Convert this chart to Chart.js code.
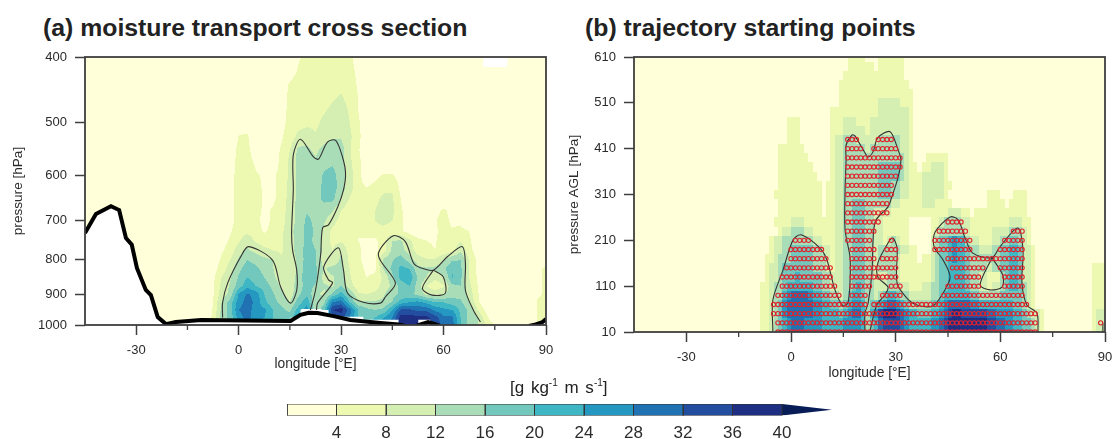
<!DOCTYPE html>
<html>
<head>
<meta charset="utf-8">
<style>
    html, body { margin: 0; padding: 0; background: #fff; width: 1115px; height: 439px; overflow: hidden; }
    body { position: relative; font-family: "Liberation Sans", sans-serif; color: #222; }
    canvas { position: absolute; }
    .panelTitle { position: absolute; top: 14px; font-size: 24.8px; font-weight: bold; white-space: nowrap; line-height: 28px; }
    #barTitle { position: absolute; left: 510px; top: 378px; font-size: 17px; white-space: nowrap; line-height: 20px; word-spacing: 2px; }
    #barTitle sup { font-size: 10px; line-height: 0; }
</style>
</head>
<body>
<div class="panelTitle" style="left:43px">(a) moisture transport cross section</div>
<div class="panelTitle" style="left:585px">(b) trajectory starting points</div>
<canvas id="panelA" width="557" height="390" style="left:0;top:0"></canvas>
<canvas id="panelB" width="558" height="390" style="left:557px;top:0"></canvas>
<div id="barTitle">[g kg<sup>-1</sup> m s<sup>-1</sup>]</div>
<canvas id="colorBar" width="565" height="43" style="left:277px;top:396px"></canvas>

<script src="https://cdn.jsdelivr.net/npm/chart.js@4"></script>
<script>
// colour levels, g/kg m/s
var levelBounds = [0, 4, 8, 12, 16, 20, 24, 28, 32, 36, 40];
var levelColors = ["#FFFFD9", "#EDF8B1", "#D5EFB3", "#A9DDB7", "#73C8BD", "#3FB6C4", "#2498C0", "#2072B2", "#234EA0", "#1D2E83", "#081D58"];

var lonTicks = [-30, 0, 30, 60, 90];
var lonMinorTicks = [-15, 15, 45, 75];
var pressureTicks = [400, 500, 600, 700, 800, 900, 1000];
var agelTicks = [10, 110, 210, 310, 410, 510, 610];

// grid longitudes, rows may stop early (rest is 0)
var gridLons = [-10, -7.5, -5, -2.5, 0, 2.5, 5, 7.5, 10, 12.5, 15, 17.5, 20, 22.5, 25, 27.5, 30, 32.5, 35, 37.5, 40, 42.5, 45, 47.5, 50, 52.5, 55, 57.5, 60, 62.5, 65, 67.5, 70, 72.5, 75, 77.5, 80, 82.5, 85, 87.5, 90];

// (a) moisture transport on pressure levels
var crossPressures = [400, 420, 440, 460, 480, 500, 525, 550, 575, 600, 625, 650, 675, 700, 725, 750, 775, 800, 825, 850, 875, 900, 925, 950, 975, 1000];
var crossField = [
    [0,0,0,0,0,0,0,0,0,0,0,3.5,5,6,6,6,6,5,2],
    [0,0,0,0,0,0,0,0,0,0,2,4.5,6,6,6,6,6,5.5,3],
    [0,0,0,0,0,0,0,0,0,2,4.5,6,6,6,6,6,7,6,3.5],
    [0,0,0,0,0,0,0,0,0,2,5,6,6,6,6,7.5,8.5,6.5,4],
    [0,0,0,0,0,0,0,0,0,2.5,5,6,6,6.5,7.5,9,10,7.5,4],
    [0,0,0,0,2,2,0,0,0,2.5,5.5,6.5,7,7,9,10,10,8,4.5,2],
    [0,0,0,0,4.2,4.5,1,0,1,3.5,6,9,10,8.5,10,11.5,11.5,9,4.8,2],
    [0,0,0,2,5,5,2,0,2,4.5,8,13,13,11,13.5,14,14,8.5,4.5,1],
    [0,0,0,2.5,5,5.5,3.5,1,2,5,9,13.5,14,13,15,15.5,13.5,9,5,2],
    [0,0,0,3,5,5.5,4.5,3.5,3.5,5,9,13,14,14,16.5,17.5,14,10,5,2,3,4.5,4.5,2],
    [0,0,0,3,5,6,5,3.5,3.5,5,9.5,13,14,14,17,18,14,10,5,4,5,7,7.5,3],
    [0,0,0,3,5,6,5.5,3.5,3.5,5,10,13,14.5,14,17,17,12,7.5,4.5,5,7,9,8.5,4],
    [0,0,0,3,5,6,5,3.5,4.2,5.5,10.5,13,15.5,14.5,14,12.5,8,5.5,5,6,8,9.5,9,4.5,2,0,0,3,4.5,3],
    [0,0,1,3,5,6,5,3,4.5,6,10.5,13,17,15,12.5,9.5,6.5,5,4.5,6,8,9.5,8,4.5,2,0,0,3.8,5,3.5,3],
    [0,0,2,3.5,6,7,5.5,3.5,5,7,11,13.5,17.5,15.5,11,7,6,5,4,5,6.5,6.5,5.5,4.5,2,0,0,3.5,5,4.2,5,4,2],
    [0,0,2.5,4.5,7.5,10.5,7.5,6,6.5,7.5,11,13,17.5,15,10,7,7.5,5.5,4,3.5,3,6.5,12,12.5,9,5.5,4,3.8,5,5,7.5,4.5,2],
    [0,1,3.5,5.5,10.5,12.5,11,9,8,7.5,10.5,13.5,18,16,10.5,8,11,6.5,4.5,3,3,6.5,13,13.5,10,6,4.5,4,5,6.5,11.5,5,2.5],
    [0,2,4.5,8,12.5,16,14.5,13,12,8.5,9.5,13,18,16,10,8.5,13,7,4.5,3,3.2,13,15.5,18.5,14,10,8.5,8.5,11.5,15.5,16,7.5,3],
    [0,2.5,5.5,10,15,18,17,14.5,12.2,9,9,13,19,17,11.5,13.5,13.5,8,5,3.5,3.5,12.5,17,21,20,13,12.5,13,15,19.5,17,7.5,3,0,0,0,0,0,0,3,5],
    [0,3,8,11.5,16.5,20,18.5,16,13,9.5,9.5,13.5,19,17,10.5,11.5,14,8.5,5,4,4.5,9,15,21,23,15.5,12,9,11,20.5,17,8,3.5,0,0,0,0,0,0,3,5],
    [0,3.5,9,12.5,18,22.5,20,18,15,11,10,14,18,15.5,12.5,11.5,16,9.5,6,5,6,10,12.5,18,20,14,8,5.5,7.5,15,16,9,4,0,0,0,0,0,0,3,5],
    [0,3.5,10,13,24.5,28.5,26.5,20,16.5,13,10,15,19,13,11,17,22,16,8.5,8,9,11.5,15,16.5,17,15,11,10.5,11,14.5,14,10.5,4.5,0,0,0,0,0,0,3,5],
    [0,4,12,18,26,30,27,21,17.5,15,12,18,23,12,15,28,30,20,13,12.5,12.5,13,16,22,24,25,23,20,20,18,17,12,5,0,0,0,0,0,0,4.5,7],
    [0,4.5,13,18,28,30,26,25,20,17,15,22,26,12.5,19,36,38,30,20,17,16,17,24,33,33,31,31,27,25,24,19,15,8,3,0,0,0,0,0,4.5,7],
    [0,5,14,17,26,30,26,24,20,18,18,24,26,16,20,30,33,28,20,18,20,24,28,38,38,37,37,34,29,29,20,15,12,5,0,0,0,0,0,4.5,7],
    [0,5,14,16,22,24,22,22,20,18,18,24,26,16,18,26,28,26,20,20,22,28,30,38,38,38,38,36,30,30,20,15,12,8,4,0,0,0,0,4.5,7]
];

// (b) same transport on levels above ground, 20 hPa cells
var startPressures = [610, 590, 570, 550, 530, 510, 490, 470, 450, 430, 410, 390, 370, 350, 330, 310, 290, 270, 250, 230, 210, 190, 170, 150, 130, 110, 90, 70, 50, 30, 10];
var startField = [
    [0,0,0,0,0,0,0,0,0,0,0,6,6,2,2,6,6,6],
    [0,0,0,0,0,0,0,0,0,0,0,6,6,6,2,6,6,6],
    [0,0,0,0,0,0,0,0,0,0,2,6,6,6,6,6,6,6],
    [0,0,0,0,0,0,0,0,0,0,6,6,6,6,6,6,6,6,2],
    [0,0,0,0,0,0,0,0,0,0,6,6,6,6,6,6,6,6,6],
    [0,0,0,0,0,0,0,0,0,0,6,6,6,6,6,10,10,6,6],
    [0,0,0,0,0,0,0,0,0,6,6,6,6,6,6,10,10,10,6],
    [0,0,0,0,6,6,0,0,0,6,6,10,6,6,10,10,10,10,6],
    [0,0,0,0,6,6,0,0,0,6,6,10,10,6,10,10,10,10,6],
    [0,0,0,0,6,6,0,0,0,6,10,14,10,10,10,14,14,10,6],
    [0,0,0,6,6,6,2,0,0,6,10,14,14,10,14,14,14,10,6],
    [0,0,0,6,6,6,6,0,0,6,10,14,14,14,14,14,14,14,6,0,6,6,6],
    [0,0,0,6,6,6,6,2,0,6,10,14,14,14,14,18,18,14,6,2,6,10,6],
    [0,0,0,6,6,6,6,6,0,6,10,14,14,14,14,18,18,14,6,6,10,10,6],
    [0,0,0,6,6,6,6,6,2,6,10,14,14,14,14,18,14,10,6,6,10,10,6,2],
    [0,0,2,6,6,6,6,6,2,6,10,14,14,14,14,18,14,10,6,6,10,10,6,0,0,0,0,6,6,0,6,6],
    [0,0,0,6,6,6,6,6,2,6,10,14,18,14,14,14,10,6,6,6,10,6,6,2,0,0,0,6,6,2,6,6],
    [0,0,0,6,6,6,6,6,2,6,10,14,18,14,10,10,6,6,6,6,6,6,6,10,6,2,6,6,6,6,6,6],
    [0,0,2,6,6,10,6,6,6,6,10,14,18,14,10,6,6,6,2,2,2,6,14,14,10,6,6,6,6,6,10,6,2],
    [0,0,0,6,10,14,10,6,6,6,10,14,18,14,10,6,6,6,2,2,2,10,14,14,14,6,6,6,10,10,14,10,2],
    [0,0,6,10,14,14,14,10,6,6,10,14,18,14,10,6,14,6,2,2,2,14,18,24,20,10,6,6,10,14,18,10,2],
    [0,0,6,10,14,18,18,14,10,6,10,14,18,14,10,14,14,10,6,2,2,14,18,24,20,14,10,10,14,18,22,10,6],
    [0,2,6,14,14,18,18,14,14,6,10,14,18,14,10,14,14,6,6,2,6,14,18,24,20,14,14,14,14,18,22,10,6],
    [0,2,8,14,18,18,18,14,14,6,10,14,18,14,10,14,14,6,6,6,6,14,18,22,20,14,14,10,14,18,22,10,6,0,0,0,0,0,0,6,6],
    [0,2,8,14,18,20,18,18,14,10,10,14,18,14,10,10,14,6,6,6,6,14,18,22,20,14,10,6,6,18,22,10,6,0,0,0,0,0,0,6,6],
    [0,4.5,10,14,22,22,22,18,14,10,10,14,22,14,10,10,14,10,6,6,10,14,18,22,20,14,10,6,10,18,22,14,6,0,0,0,0,0,0,6,6],
    [0,5,10,14,26,30,30,22,18,14,10,18,22,14,10,18,22,14,10,10,10,14,22,22,22,18,14,14,14,18,18,14,6,0,0,0,0,0,0,6,6],
    [0,5,10,18,30,30,30,26,22,18,14,22,26,14,18,26,30,22,14,14,14,18,26,30,30,26,22,22,22,22,18,14,6,0,0,0,0,0,0,6,6],
    [0,5,10,18,30,30,30,26,22,22,18,26,30,14,26,38,38,30,22,18,18,22,30,38,34,34,34,30,26,26,22,18,10,6,0,0,0,0,0,6,10],
    [0,5,10,18,26,30,26,26,22,22,22,26,26,14,22,34,34,30,22,22,22,26,34,38,38,38,38,34,30,26,22,18,14,6,0,0,0,0,0,6,10],
    [0,5,10,18,26,30,26,26,22,22,22,26,26,14,22,34,34,30,22,22,22,26,34,38,38,38,38,34,30,26,22,18,14,6,0,0,0,0,0,6,10]
];

// black surface line in (a), [lon, hPa]
var surfaceMain = [[-45,730],[-41.8,684],[-37.4,666],[-35,675],[-33,743],[-31.3,760],[-29.8,823],[-27.2,887],[-25.7,903],[-23.7,973],[-21.3,997],[-18.4,990],[-11,983],[15.2,986],[18.1,966],[20.5,959],[23.1,960],[27.8,970],[32.7,983],[41.5,993],[46.8,998],[48.8,1003]];
var surfaceLump = [[52,1003],[53.5,997],[55.5,990],[57.5,997],[59,1003]];
var surfaceEnd = [[85,1003],[87,998],[89,990],[90,980]];
// blanked cells just above the surface
var maskMain = [[15.2,1000],[15.2,975],[18.1,975],[18.1,950],[18.5,947],[24.3,947],[24.3,950],[26.3,950],[26.3,972],[36.5,972],[36.5,982],[46.8,982],[46.8,1000]];
var maskLump = [[52.6,1000],[52.6,982],[56.1,982],[56.1,1000]];
var maskTop = [[71.6,401],[78.7,401],[78.7,414],[71.6,414]];

// contour lines, [lon, hPa]
var contourA = [
    [[-4.7,975],[-4.7,926],[-3.2,866],[0.6,792],[2.9,765],[9.9,801],[12.3,878],[15.2,928],[17,888],[17,829],[15.8,774],[15.5,730],[16,630],[16,559],[18.1,530],[21.9,563],[23.4,567],[26,535],[28.4,532],[30.4,563],[31.3,595],[30.7,630],[29,668],[26.3,710],[24.6,717],[24,787],[22.5,888],[21,950]],
    [[22.8,950],[23.1,928],[27.5,866],[26.3,857],[24.9,820],[29.2,768],[30.7,829],[31.9,897],[36.5,925],[41.5,928],[43,908],[45.9,866],[40.9,787],[45.3,737],[48.8,752],[51.2,809],[53.2,822],[57,829],[61.1,792],[65.5,765],[66.4,809],[66.4,888],[68.7,950],[70.8,990]],
    [[57,829],[53.8,882],[56.7,903],[60.5,897],[59.9,848],[57,829]]
];
var contourB = [
    [[-5.2,12],[-5.2,80],[-2.3,145],[0.6,211],[2.9,222],[8.3,193],[10.3,167],[12.6,102],[14.9,67],[16.3,73],[16.9,117],[16.9,174],[15.5,233],[15.5,320],[15.8,386],[15.8,418],[17.5,440],[18.3,438],[21.2,401],[22.1,392],[23.5,403],[24.9,434],[28.4,447],[30.7,407],[31.5,386],[30.7,348],[28.9,305],[27.8,283],[24.1,250],[23.2,139],[22.1,73],[21.2,51],[21.2,12]],
    [[22.6,12],[24.6,69],[26.9,91],[27.8,108],[24.9,130],[24.9,161],[27.8,204],[29.2,215],[30.4,193],[30.4,117],[33.2,84],[36.1,69],[40.7,67],[43.6,95],[45.6,130],[43.6,167],[41,196],[41.3,228],[45.6,261],[47.9,255],[49.9,215],[52.1,182],[57.6,172],[59.9,196],[65,237],[66.5,189],[66.2,117],[67.6,69],[70.5,51],[70.8,10]],
    [[57.6,172],[54.2,113],[57,102],[60.5,108],[60.7,134],[57.6,172]],
    [[89.4,30],[89.4,10]]
];

// trajectory starts, on a 1.25 deg grid: level and [from, to] longitude runs
var startLevels = [10, 30, 50, 70, 90, 110, 130, 150, 170, 190, 210, 230, 250, 270, 290, 310, 330, 350, 370, 390, 410, 430];
var startRuns = [
    [[-3.75,21.25],[22.5,70]],
    [[-3.75,21.25],[22.5,70],[88.75,88.75]],
    [[-5,21.25],[22.5,70]],
    [[-5,21.25],[23.75,67.5]],
    [[-3.75,13.75],[17.5,21.25],[26.25,31.25],[43.75,66.25]],
    [[-2.5,12.5],[17.5,22.5],[28.75,31.25],[45,53.75],[61.25,66.25]],
    [[-2.5,11.25],[17.5,23.75],[25,30],[47.5,53.75],[61.25,66.25]],
    [[-1.25,11.25],[17.5,23.75],[25,30],[46.25,55],[60,66.25]],
    [[0,10],[17.5,23.75],[26.25,30],[45,66.25]],
    [[0,8.75],[17.5,23.75],[27.5,30],[41.25,51.25],[60,66.25]],
    [[1.25,5],[16.25,22.5],[28.75,28.75],[41.25,51.25],[61.25,66.25]],
    [[16.25,23.75],[42.5,50],[63.75,66.25]],
    [[16.25,25],[45,48.75]],
    [[16.25,27.5]],
    [[16.25,27.5]],
    [[16.25,28.75]],
    [[16.25,28.75]],
    [[16.25,30]],
    [[16.25,31.25]],
    [[16.25,31.25]],
    [[16.25,20],[23.75,30]],
    [[16.25,18.75],[25,28.75]]
];

var axisColor = "#3f3f3f";
var textColor = "#2b2b2b";
var fontName = "'Liberation Sans', sans-serif";

function toPoints(list) {
    return list.map(function (d) { return { x: d[0], y: d[1] }; });
}

function hexRgb(h) {
    return [parseInt(h.slice(1, 3), 16), parseInt(h.slice(3, 5), 16), parseInt(h.slice(5, 7), 16)];
}

function levelIndex(v) {
    return Math.max(0, Math.min(Math.floor(v / 4), levelColors.length - 1));
}

function startPoints() {
    var pts = [];
    startLevels.forEach(function (level, i) {
        startRuns[i].forEach(function (run) {
            for (var lon = run[0]; lon <= run[1]; lon += 1.25) {
                pts.push({ x: lon, y: level });
            }
        });
    });
    return pts;
}

function cellValue(field, i, j) {
    return field[i][j] || 0;
}

// bilinear fill of the contour field, one pixel at a time
var crossFieldPlugin = {
    id: "crossFieldPlugin",
    beforeDraw: function (chart) {
        var area = chart.chartArea, xs = chart.scales.x, ys = chart.scales.y;
        var w = Math.round(area.right - area.left), h = Math.round(area.bottom - area.top);
        var off = document.createElement("canvas");
        off.width = w; off.height = h;
        var octx = off.getContext("2d");
        var img = octx.createImageData(w, h);
        var rgb = levelColors.map(hexRgb);
        var logP = crossPressures.map(function (p) { return Math.log(p); });
        for (var py = 0; py < h; py++) {
            var lp = Math.log(ys.getValueForPixel(area.top + py + 0.5));
            var i = 0;
            while (i < logP.length - 2 && lp > logP[i + 1]) i++;
            var fy = Math.max(0, Math.min(1, (lp - logP[i]) / (logP[i + 1] - logP[i])));
            for (var px = 0; px < w; px++) {
                var lon = xs.getValueForPixel(area.left + px + 0.5);
                var v = 0;
                if (lon >= gridLons[0]) {
                    var j = Math.min(gridLons.length - 2, Math.floor((lon - gridLons[0]) / 2.5));
                    var fx = (lon - gridLons[j]) / 2.5;
                    v = (cellValue(crossField, i, j) * (1 - fx) + cellValue(crossField, i, j + 1) * fx) * (1 - fy) +
                        (cellValue(crossField, i + 1, j) * (1 - fx) + cellValue(crossField, i + 1, j + 1) * fx) * fy;
                }
                var c = rgb[levelIndex(v)], k = (py * w + px) * 4;
                img.data[k] = c[0]; img.data[k + 1] = c[1]; img.data[k + 2] = c[2]; img.data[k + 3] = 255;
            }
        }
        octx.putImageData(img, 0, 0);
        chart.ctx.drawImage(off, area.left, area.top);
    }
};

// coarse cells of panel b, split in two across longitude
var startFieldPlugin = {
    id: "startFieldPlugin",
    beforeDraw: function (chart) {
        var area = chart.chartArea, xs = chart.scales.x, ys = chart.scales.y, ctx = chart.ctx;
        ctx.save();
        ctx.beginPath();
        ctx.rect(area.left, area.top, area.right - area.left, area.bottom - area.top);
        ctx.clip();
        ctx.fillStyle = levelColors[0];
        ctx.fillRect(area.left, area.top, area.right - area.left, area.bottom - area.top);
        startPressures.forEach(function (p, i) {
            var y0 = Math.round(ys.getPixelForValue(p + 10)), y1 = Math.round(ys.getPixelForValue(p - 10));
            gridLons.forEach(function (lon, j) {
                var v = cellValue(startField, i, j), next = cellValue(startField, i, j + 1);
                var parts = [[lon - 0.625, v], [lon + 0.625, (v + next) / 2]];
                parts.forEach(function (part) {
                    if (part[1] < 4) return;
                    var x0 = Math.round(xs.getPixelForValue(part[0] - 0.625)), x1 = Math.round(xs.getPixelForValue(part[0] + 0.625));
                    ctx.fillStyle = levelColors[levelIndex(part[1])];
                    ctx.fillRect(x0, y0, x1 - x0, y1 - y0);
                });
            });
        });
        ctx.restore();
    }
};

// axes box and the short ticks
var framePlugin = {
    id: "framePlugin",
    afterDatasetsDraw: function (chart) {
        var area = chart.chartArea, ctx = chart.ctx;
        ctx.save();
        ctx.strokeStyle = axisColor;
        ctx.lineWidth = 1.8;
        ctx.strokeRect(area.left, area.top, area.right - area.left, area.bottom - area.top);
        ctx.lineWidth = 1.3;
        ctx.beginPath();
        lonMinorTicks.forEach(function (lon) {
            var x = chart.scales.x.getPixelForValue(lon);
            ctx.moveTo(x, area.bottom);
            ctx.lineTo(x, area.bottom + 5);
        });
        ctx.stroke();
        ctx.restore();
    }
};

function lineSet(list, color, width, fill) {
    return {
        data: toPoints(list), showLine: true, pointRadius: 0, borderColor: color, borderWidth: width,
        backgroundColor: "#ffffff", fill: fill === undefined ? false : fill
    };
}

function contourSet(list) {
    var set = lineSet(list, "#333333", 1.1);
    set.tension = 0.3;
    return set;
}

function panelOptions(yType, yMin, yMax, reverse, yTicks, yWidth, xHeight, yTitle, padRight, xTitlePad, yTitlePad) {
    return {
        responsive: false,
        animation: false,
        layout: { padding: { top: 57, right: padRight, bottom: 0, left: 0 } },
        plugins: { legend: { display: false }, tooltip: { enabled: false }, title: { display: false } },
        scales: {
            x: {
                type: "linear", min: -45, max: 90,
                afterBuildTicks: function (s) { s.ticks = lonTicks.map(function (v) { return { value: v }; }); },
                // tick padding would otherwise eat into the plot width
                afterFit: function (s) { s.height = xHeight; s.paddingLeft = 0; s.paddingRight = 0; },
                grid: { drawOnChartArea: false, tickLength: 10, tickColor: axisColor, tickWidth: 1.5 },
                border: { display: false },
                ticks: { autoSkip: false, maxRotation: 0, padding: 8, color: textColor, font: { family: fontName, size: 13 }, callback: function (v) { return String(v); } },
                title: { display: true, text: "longitude [°E]", color: textColor, font: { family: fontName, size: 13.8 }, padding: { top: 0, bottom: xTitlePad } }
            },
            y: {
                type: yType, min: yMin, max: yMax, reverse: reverse,
                afterBuildTicks: function (s) { s.ticks = yTicks.map(function (v) { return { value: v }; }); },
                afterFit: function (s) { s.width = yWidth; },
                grid: { drawOnChartArea: false, tickLength: 10, tickColor: axisColor, tickWidth: 1.5 },
                border: { display: false },
                ticks: { autoSkip: false, padding: 8, color: textColor, font: { family: fontName, size: 13 }, callback: function (v) { return String(v); } },
                title: { display: true, text: yTitle, color: textColor, font: { family: fontName, size: 13.6 }, padding: { top: yTitlePad, bottom: 0 } }
            }
        }
    };
}

var datasetsA = contourA.map(contourSet);
datasetsA.push(lineSet(surfaceMain, "#000000", 4, { value: 1000 }));
datasetsA.push(lineSet(surfaceLump, "#000000", 4));
datasetsA.push(lineSet(surfaceEnd, "#000000", 4, { value: 1000 }));
datasetsA.push(lineSet(maskMain, "rgba(0,0,0,0)", 0, "shape"));
datasetsA.push(lineSet(maskLump, "rgba(0,0,0,0)", 0, "shape"));
datasetsA.push(lineSet(maskTop, "rgba(0,0,0,0)", 0, "shape"));

new Chart(document.getElementById("panelA"), {
    type: "scatter",
    data: { datasets: datasetsA },
    options: panelOptions("logarithmic", 400, 1000, true, pressureTicks, 85, 65, "pressure [hPa]", 11, 18, 10),
    plugins: [crossFieldPlugin, framePlugin]
});

var datasetsB = [{
    data: startPoints(), showLine: false, pointStyle: "circle", pointRadius: 2.1,
    borderColor: "#e0242c", borderWidth: 1.1, backgroundColor: "rgba(0,0,0,0)"
}].concat(contourB.map(contourSet));

new Chart(document.getElementById("panelB"), {
    type: "scatter",
    data: { datasets: datasetsB },
    options: panelOptions("linear", 10, 610, false, agelTicks, 77, 58, "pressure AGL [hPa]", 10, 9, 9),
    plugins: [startFieldPlugin, framePlugin]
});

// colour bar with its arrow
var barSets = [];
for (var b = 0; b < levelBounds.length - 1; b++) {
    barSets.push({
        data: [{ x: levelBounds[b], y: 0 }, { x: levelBounds[b + 1], y: 0 }, { x: levelBounds[b + 1], y: 1 }, { x: levelBounds[b], y: 1 }, { x: levelBounds[b], y: 0 }],
        showLine: true, pointRadius: 0, borderColor: "#333333", borderWidth: 1,
        backgroundColor: levelColors[b], fill: "shape"
    });
}
barSets.push({
    data: [{ x: 40, y: 0 }, { x: 44.04, y: 0.5 }, { x: 40, y: 1 }, { x: 40, y: 0 }],
    showLine: true, pointRadius: 0, borderColor: levelColors[10], borderWidth: 0,
    backgroundColor: levelColors[10], fill: "shape"
});

new Chart(document.getElementById("colorBar"), {
    type: "scatter",
    data: { datasets: barSets },
    options: {
        responsive: false,
        animation: false,
        layout: { padding: { top: 8, right: 10, bottom: 0, left: 10 } },
        plugins: { legend: { display: false }, tooltip: { enabled: false } },
        scales: {
            x: {
                type: "linear", min: 0, max: 44.04,
                afterBuildTicks: function (s) { s.ticks = levelBounds.slice(1).map(function (v) { return { value: v }; }); },
                afterFit: function (s) { s.height = 23.5; },
                grid: { display: false },
                border: { display: false },
                ticks: { autoSkip: false, maxRotation: 0, padding: 0, color: textColor, font: { family: fontName, size: 17 }, callback: function (v) { return String(v); } }
            },
            y: { type: "linear", min: 0, max: 1, display: false }
        }
    }
});
</script>
</body>
</html>
